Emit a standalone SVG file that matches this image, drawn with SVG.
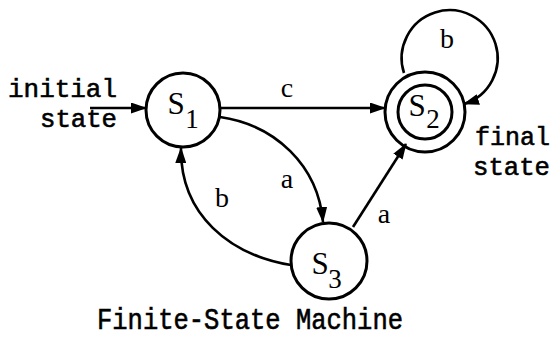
<svg xmlns="http://www.w3.org/2000/svg" width="554" height="339" viewBox="0 0 554 339">
<style>
.st{fill:none;stroke:#000;stroke-width:3}
.ed{fill:none;stroke:#000;stroke-width:2.6}
.mono{font-family:"Liberation Mono","DejaVu Sans Mono",monospace;font-size:26px;fill:#000;stroke:#000;stroke-width:0.6}
.title{font-size:29px}
.ser{font-family:"Liberation Serif","DejaVu Serif",serif;fill:#000}
.lbl{font-size:28px}
.big{font-size:31px}
.sub{font-size:27px}
</style>
<defs>
<marker id="ah" viewBox="0 0 16 11" refX="15" refY="5.5" markerWidth="16" markerHeight="11" markerUnits="userSpaceOnUse" orient="auto">
<path d="M0,0 L16,5.5 L0,11 z" fill="#000"/>
</marker>
</defs>
<rect width="554" height="339" fill="#fff"/>
<g id="connectors">
<path class="ed" d="M90,108 L146,108" marker-end="url(#ah)"/>
<path class="ed" d="M220,108 L385,108" marker-end="url(#ah)"/>
<path class="ed" d="M220,117 C275,125 318,165 323,222" marker-end="url(#ah)"/>
<path class="ed" d="M291,265 C230,255 180,215 181,148" marker-end="url(#ah)"/>
<path class="ed" d="M353,227 L406,144" marker-end="url(#ah)"/>
<path class="ed" d="M404,73 A48,48 0 1 1 464,104" marker-end="url(#ah)"/>
<text class="ser lbl" x="287" y="97" text-anchor="middle">c</text>
<text class="ser lbl" x="287" y="188" text-anchor="middle">a</text>
<text class="ser lbl" x="222" y="207" text-anchor="middle">b</text>
<text class="ser lbl" x="384" y="223" text-anchor="middle">a</text>
<text class="ser lbl" x="447" y="48" text-anchor="middle">b</text>
</g>
<g id="s1">
<circle class="st" cx="183" cy="110" r="37" fill="#fff"/>
<text class="ser big" x="176" y="114" text-anchor="middle">S</text>
<text class="ser sub" x="192" y="128" text-anchor="middle">1</text>
</g>
<g id="s2">
<circle class="st" cx="425" cy="112" r="40"/>
<circle class="st" cx="425" cy="112" r="27"/>
<text class="ser big" x="417" y="116" text-anchor="middle">S</text>
<text class="ser sub" x="433" y="128" text-anchor="middle">2</text>
</g>
<g id="s3">
<circle class="st" cx="329" cy="261" r="38"/>
<text class="ser big" x="320" y="274" text-anchor="middle">S</text>
<text class="ser sub" x="335" y="288" text-anchor="middle">3</text>
</g>
<g id="labels">
<text class="mono" x="8" y="97" textLength="109" lengthAdjust="spacingAndGlyphs">initial</text>
<text class="mono" x="40" y="127" textLength="77" lengthAdjust="spacingAndGlyphs">state</text>
<text class="mono" x="475" y="145" textLength="75" lengthAdjust="spacingAndGlyphs">final</text>
<text class="mono" x="473" y="175" textLength="77" lengthAdjust="spacingAndGlyphs">state</text>
<text class="mono title" x="97" y="329" textLength="306" lengthAdjust="spacingAndGlyphs">Finite-State Machine</text>
</g>
</svg>
